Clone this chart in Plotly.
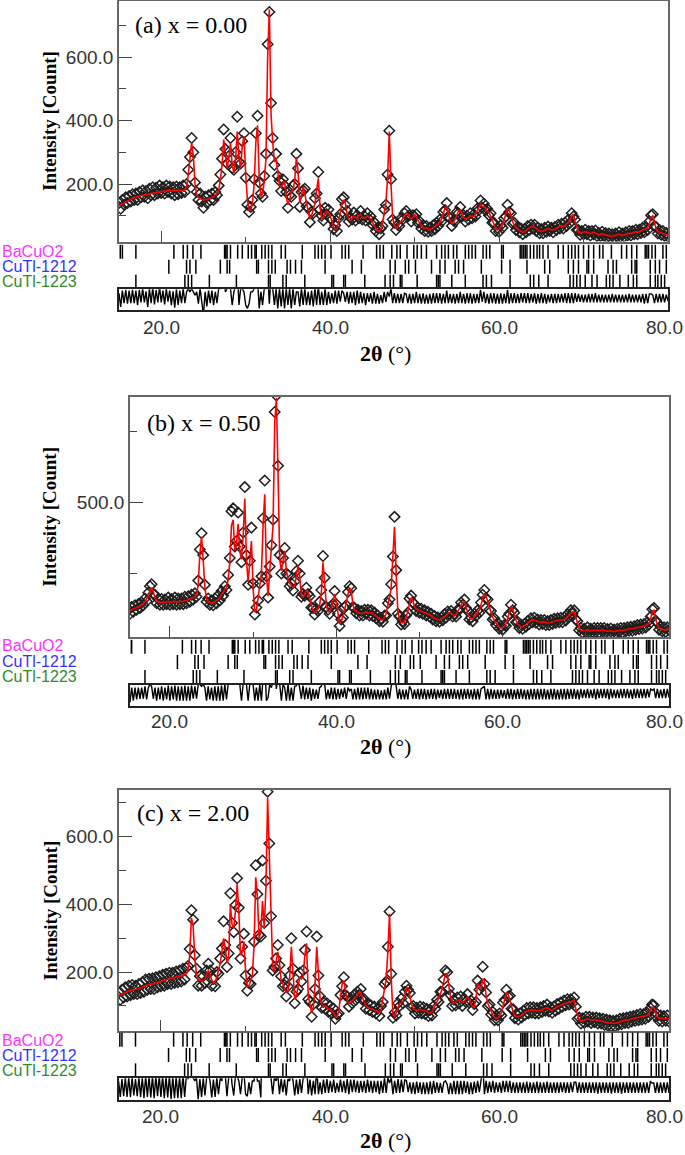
import numpy as np
import plotly.graph_objects as go

W, H = 685, 1155

# step-scan grid, 0.2 deg
two_theta = np.round(np.arange(15.0, 80.0001, 0.2), 1)
x_tick_vals = [20, 40, 60, 80]

# (a) x = 0.00
obs_a = [
    140, 122, 150, 135, 158, 140, 162, 145, 168, 150,
    170, 150, 175, 158, 180, 160, 178, 155, 185, 165,
    190, 165, 188, 170, 195, 172, 190, 170, 195, 175,
    192, 170, 190, 165, 192, 168, 190, 172, 195, 175,
    200, 245, 285, 345, 300, 205, 175, 150, 170, 145,
    125, 160, 140, 165, 148, 170, 150, 175, 165, 195,
    230, 280, 372, 310, 265, 300, 345, 250, 245, 300,
    412, 270, 265, 335, 360, 220, 135, 112, 128, 150,
    215, 360, 415, 205, 170, 160, 225, 295, 640, 742,
    455, 345, 260, 295, 225, 210, 178, 215, 195, 175,
    125, 165, 160, 195, 200, 295, 250, 128, 175, 180,
    185, 130, 125, 80, 112, 108, 155, 170, 238, 120,
    100, 85, 125, 105, 120, 92, 88, 58, 70, 52,
    92, 105, 152, 158, 135, 115, 82, 95, 88, 110,
    85, 102, 92, 115, 88, 100, 85, 108, 90, 98,
    72, 80, 52, 62, 42, 60, 68, 120, 135, 230,
    368, 215, 88, 78, 55, 72, 68, 92, 88, 108,
    115, 98, 102, 82, 102, 98, 105, 78, 82, 60,
    70, 52, 68, 50, 62, 52, 70, 58, 78, 68,
    88, 82, 112, 118, 140, 98, 92, 68, 85, 82,
    112, 108, 128, 98, 102, 82, 100, 88, 108, 92,
    105, 98, 122, 118, 148, 125, 138, 118, 122, 102,
    108, 78, 78, 52, 62, 50, 70, 62, 92, 98,
    135, 112, 108, 75, 78, 55, 65, 48, 60, 42,
    58, 48, 68, 55, 72, 60, 72, 52, 62, 45,
    58, 45, 62, 50, 66, 52, 62, 48, 65, 55,
    72, 60, 75, 60, 78, 68, 88, 78, 108, 98,
    88, 55, 55, 40, 52, 42, 56, 42, 52, 38,
    52, 42, 54, 36, 46, 36, 50, 36, 46, 32,
    44, 30, 42, 30, 44, 34, 48, 34, 44, 34,
    48, 38, 52, 38, 52, 42, 56, 42, 56, 46,
    62, 48, 65, 55, 82, 102, 105, 68, 65, 44,
    55, 40, 52, 36, 46, 34,
]
calc_a = [
    132, 135, 138, 142, 145, 148, 150, 152, 155, 157,
    158, 160, 162, 164, 165, 166, 167, 168, 170, 172,
    173, 174, 175, 176, 177, 178, 178, 179, 180, 180,
    180, 180, 179, 179, 178, 178, 178, 179, 180, 182,
    190, 230, 275, 330, 290, 200, 165, 158, 155, 152,
    150, 150, 152, 153, 155, 158, 160, 165, 172, 180,
    215, 260, 340, 300, 250, 280, 330, 260, 235, 280,
    365, 280, 250, 320, 350, 230, 150, 120, 118, 140,
    200, 330, 385, 220, 160, 170, 210, 280, 600, 750,
    420, 330, 270, 280, 240, 195, 190, 200, 210, 160,
    135, 150, 175, 180, 210, 285, 240, 140, 160, 190,
    170, 140, 115, 90, 100, 120, 140, 180, 218, 130,
    90, 95, 110, 115, 110, 100, 80, 65, 58, 60,
    80, 110, 140, 150, 140, 105, 90, 85, 95, 100,
    95, 90, 100, 105, 95, 92, 95, 100, 95, 90,
    80, 70, 60, 55, 50, 55, 75, 110, 140, 220,
    365, 200, 95, 70, 62, 65, 75, 85, 95, 100,
    108, 105, 95, 90, 95, 105, 95, 85, 75, 68,
    62, 60, 62, 58, 55, 60, 62, 65, 70, 75,
    80, 90, 105, 125, 128, 105, 85, 75, 78, 90,
    105, 115, 118, 105, 95, 90, 92, 95, 100, 100,
    98, 105, 115, 125, 135, 130, 128, 125, 115, 110,
    100, 85, 70, 60, 55, 58, 62, 70, 85, 105,
    122, 120, 100, 82, 70, 62, 58, 55, 52, 48,
    50, 55, 60, 62, 65, 66, 64, 60, 55, 52,
    50, 52, 55, 58, 60, 58, 55, 55, 58, 62,
    65, 66, 68, 66, 70, 75, 80, 85, 100, 105,
    80, 60, 48, 45, 46, 48, 50, 48, 45, 44,
    45, 48, 46, 42, 40, 42, 44, 42, 40, 38,
    38, 36, 35, 36, 38, 40, 42, 40, 38, 40,
    42, 44, 45, 44, 46, 48, 50, 48, 50, 52,
    55, 56, 58, 62, 75, 95, 100, 75, 58, 50,
    48, 46, 45, 42, 40, 38,
]

# (b) x = 0.50
obs_b = [
    122, 108, 132, 115, 138, 122, 142, 128, 148, 138,
    162, 152, 182, 205, 212, 178, 175, 145, 160, 140,
    160, 140, 158, 142, 165, 140, 160, 142, 165, 140,
    162, 142, 162, 142, 168, 145, 170, 150, 175, 158,
    180, 168, 225, 335, 392, 315, 210, 150, 162, 140,
    155, 138, 162, 145, 172, 155, 188, 172, 205, 192,
    245, 305, 470, 480, 345, 365, 465, 345, 290, 395,
    555, 315, 210, 295, 412, 215, 105, 130, 155, 215,
    240, 445, 578, 240, 165, 275, 350, 440, 820, 878,
    630, 315, 250, 305, 340, 250, 245, 205, 215, 190,
    222, 258, 295, 250, 168, 178, 172, 200, 178, 170,
    130, 128, 105, 125, 118, 150, 192, 312, 235, 132,
    122, 108, 135, 142, 188, 142, 108, 65, 88, 95,
    130, 138, 185, 205, 198, 132, 128, 110, 122, 102,
    118, 102, 122, 108, 122, 102, 120, 100, 112, 92,
    102, 82, 92, 80, 102, 102, 145, 158, 212, 310,
    450, 262, 108, 98, 70, 82, 72, 102, 112, 162,
    172, 148, 142, 118, 130, 112, 126, 108, 120, 102,
    115, 98, 108, 88, 100, 82, 95, 80, 95, 85,
    106, 95, 116, 105, 118, 98, 108, 98, 122, 122,
    148, 140, 158, 128, 118, 88, 95, 82, 108, 100,
    120, 112, 148, 175, 192, 162, 158, 122, 118, 88,
    92, 68, 75, 55, 65, 52, 68, 65, 98, 108,
    140, 120, 112, 78, 80, 58, 70, 55, 72, 62,
    82, 72, 92, 78, 94, 76, 88, 70, 86, 72,
    86, 68, 82, 68, 86, 72, 90, 76, 92, 78,
    94, 78, 96, 84, 106, 98, 120, 108, 120, 88,
    82, 50, 58, 42, 55, 44, 60, 44, 55, 44,
    58, 44, 58, 42, 58, 46, 58, 42, 54, 40,
    56, 40, 52, 40, 55, 44, 58, 42, 58, 46,
    60, 48, 62, 48, 64, 52, 68, 54, 70, 56,
    72, 60, 78, 70, 98, 124, 128, 84, 76, 52,
    62, 46, 60, 44, 60, 50,
]
calc_b = [
    115, 120, 122, 125, 128, 130, 132, 135, 138, 145,
    150, 160, 172, 190, 200, 185, 165, 155, 150, 148,
    148, 150, 148, 150, 152, 150, 148, 150, 152, 150,
    150, 152, 150, 152, 155, 155, 158, 160, 162, 165,
    168, 175, 210, 320, 380, 300, 200, 160, 150, 148,
    145, 148, 150, 155, 160, 165, 175, 182, 190, 200,
    230, 290, 420, 440, 330, 350, 425, 330, 300, 380,
    515, 300, 220, 280, 365, 200, 115, 120, 165, 200,
    250, 420, 530, 250, 170, 260, 340, 420, 780, 870,
    600, 300, 260, 290, 330, 260, 230, 215, 205, 200,
    210, 245, 275, 240, 175, 165, 180, 190, 185, 160,
    140, 120, 112, 118, 125, 140, 180, 290, 220, 140,
    115, 115, 125, 150, 178, 150, 100, 72, 80, 100,
    120, 145, 175, 200, 190, 140, 120, 118, 112, 110,
    108, 110, 112, 115, 112, 110, 112, 108, 105, 100,
    95, 90, 86, 88, 95, 110, 135, 165, 200, 290,
    415, 250, 115, 90, 78, 75, 80, 95, 120, 150,
    165, 155, 135, 125, 122, 120, 118, 115, 112, 110,
    108, 105, 100, 95, 92, 90, 88, 86, 88, 92,
    98, 102, 108, 112, 110, 105, 100, 105, 115, 130,
    140, 148, 150, 135, 110, 95, 88, 90, 100, 108,
    112, 120, 140, 165, 180, 170, 150, 130, 110, 95,
    85, 75, 68, 62, 58, 58, 62, 72, 90, 115,
    132, 128, 105, 85, 72, 65, 62, 62, 65, 70,
    75, 80, 84, 86, 86, 84, 80, 78, 78, 80,
    78, 76, 75, 76, 78, 80, 82, 84, 85, 86,
    86, 86, 88, 92, 98, 105, 112, 115, 112, 95,
    75, 58, 50, 48, 48, 50, 52, 50, 48, 50,
    50, 52, 50, 48, 50, 52, 50, 48, 46, 48,
    48, 46, 45, 46, 48, 50, 50, 48, 50, 52,
    52, 54, 55, 55, 56, 58, 60, 60, 62, 62,
    64, 66, 70, 75, 90, 118, 120, 90, 68, 58,
    55, 52, 52, 50, 52, 55,
]

# (c) x = 2.00
obs_c = [
    140, 118, 148, 125, 155, 128, 160, 132, 162, 135,
    160, 135, 165, 138, 170, 142, 178, 148, 180, 150,
    182, 150, 185, 155, 188, 158, 192, 160, 195, 165,
    198, 165, 198, 168, 202, 170, 205, 172, 210, 178,
    212, 218, 268, 383, 355, 250, 210, 160, 188, 160,
    188, 168, 205, 225, 205, 160, 180, 158, 200, 195,
    240, 270, 350, 280, 215, 255, 433, 345, 318, 398,
    477, 390, 240, 275, 313, 190, 145, 168, 165, 200,
    290, 516, 430, 310, 305, 530, 345, 470, 733, 580,
    365, 205, 215, 240, 280, 220, 188, 158, 162, 128,
    158, 190, 300, 210, 108, 142, 150, 198, 172, 205,
    265, 320, 120, 112, 68, 105, 150, 305, 190, 128,
    95, 112, 92, 108, 82, 100, 78, 92, 62, 75,
    78, 132, 158, 185, 132, 128, 98, 122, 108, 132,
    118, 142, 132, 150, 118, 120, 92, 108, 88, 102,
    82, 98, 78, 92, 70, 100, 112, 165, 172, 275,
    379, 195, 65, 80, 72, 108, 100, 122, 108, 142,
    160, 148, 138, 96, 100, 78, 95, 80, 98, 78,
    96, 76, 92, 70, 88, 72, 100, 92, 118, 112,
    142, 142, 178, 205, 200, 150, 132, 100, 118, 102,
    125, 108, 128, 100, 122, 112, 135, 110, 116, 88,
    106, 112, 175, 148, 160, 216, 165, 140, 100, 104,
    75, 82, 58, 72, 58, 78, 72, 110, 118, 148,
    128, 130, 92, 90, 64, 76, 60, 78, 66, 86,
    74, 94, 78, 96, 80, 96, 78, 94, 78, 96,
    82, 100, 86, 104, 84, 96, 80, 98, 86, 106,
    92, 110, 98, 116, 102, 120, 104, 120, 108, 125,
    98, 62, 66, 48, 64, 50, 68, 54, 68, 50,
    66, 52, 66, 48, 64, 48, 62, 44, 60, 42,
    58, 40, 56, 40, 58, 44, 62, 46, 64, 50,
    66, 50, 68, 54, 70, 56, 73, 58, 76, 60,
    76, 62, 80, 68, 94, 104, 102, 70, 76, 56,
    72, 54, 70, 56, 72, 54,
]
calc_c = [
    130, 132, 135, 138, 140, 142, 145, 146, 147, 147,
    147, 148, 150, 152, 155, 158, 160, 162, 163, 165,
    165, 166, 167, 168, 170, 172, 174, 176, 178, 180,
    180, 182, 182, 184, 185, 186, 188, 188, 190, 192,
    195, 205, 250, 360, 340, 240, 195, 178, 175, 174,
    174, 180, 190, 205, 195, 175, 168, 172, 185, 205,
    226, 260, 300, 270, 228, 240, 400, 340, 330, 380,
    460, 380, 250, 260, 290, 200, 158, 160, 175, 190,
    280, 480, 420, 300, 320, 410, 330, 450, 714, 560,
    350, 215, 200, 230, 260, 230, 175, 165, 150, 140,
    145, 180, 275, 200, 120, 130, 160, 185, 180, 190,
    250, 285, 130, 100, 80, 95, 160, 275, 200, 120,
    105, 100, 100, 95, 90, 90, 85, 80, 70, 68,
    85, 120, 165, 175, 140, 115, 108, 110, 115, 120,
    125, 132, 140, 140, 125, 110, 100, 96, 95, 92,
    90, 88, 85, 82, 80, 90, 120, 150, 180, 260,
    372, 180, 75, 70, 80, 95, 108, 110, 115, 130,
    150, 155, 130, 105, 92, 88, 86, 88, 90, 88,
    88, 86, 84, 80, 79, 82, 90, 100, 110, 120,
    135, 150, 170, 195, 195, 160, 125, 110, 108, 112,
    115, 118, 118, 110, 112, 120, 126, 120, 108, 98,
    97, 120, 165, 155, 150, 178, 175, 130, 108, 95,
    82, 72, 66, 64, 65, 70, 80, 100, 125, 138,
    135, 120, 100, 82, 72, 68, 68, 70, 74, 78,
    82, 85, 86, 88, 88, 88, 86, 85, 86, 88,
    90, 92, 94, 95, 92, 88, 88, 90, 94, 98,
    100, 102, 105, 108, 110, 112, 112, 112, 115, 117,
    90, 70, 58, 56, 56, 58, 60, 62, 60, 58,
    58, 60, 58, 57, 56, 56, 54, 52, 52, 50,
    50, 49, 48, 48, 50, 52, 54, 55, 56, 58,
    58, 58, 60, 62, 62, 64, 65, 66, 68, 68,
    68, 70, 72, 76, 85, 97, 95, 78, 68, 64,
    64, 62, 62, 64, 64, 62,
]

# reflection positions (2theta) of the three phases
refl_bacuo2 = [
    15.15, 15.4, 17.0, 21.5, 22.6, 23.1, 23.75, 24.7, 27.5, 27.65, 27.8, 28.2,
    29.05, 29.6, 30.3, 30.7, 31.1, 31.25, 31.9, 32.3, 32.7, 33.1, 34.2, 34.7,
    36.7, 38.2, 38.6, 39.0, 39.4, 40.1, 41.4, 41.8, 42.2, 43.9, 45.5, 45.9,
    46.3, 47.3, 47.9, 48.3, 49.1, 49.9, 50.3, 50.8, 51.4, 52.6, 53.2, 53.6,
    54.0, 54.6, 55.0, 56.0, 56.4, 56.8, 57.2, 58.1, 58.5, 58.9, 60.3, 60.5,
    62.5, 62.7, 62.9, 63.1, 63.3, 63.7, 64.1, 64.5, 64.8, 65.2, 65.8, 67.0,
    67.6, 68.2, 68.6, 69.0, 69.4, 70.0, 70.6, 71.2, 71.9, 72.3, 73.3, 74.5,
    75.1, 75.7, 76.3, 77.3, 77.5, 77.7, 78.1, 78.5, 79.4, 79.8,
]
refl_1212 = [
    20.9, 23.0, 23.4, 24.1, 27.0, 27.8, 28.1, 31.3, 31.5, 32.7, 33.1, 33.5,
    34.9, 35.3, 35.9, 36.6, 39.4, 42.6, 43.7, 47.1, 47.7, 48.9, 49.3, 50.1,
    52.0, 53.0, 53.6, 54.8, 55.2, 55.8, 57.9, 60.3, 61.3, 63.3, 65.4, 66.0,
    68.2, 68.8, 69.4, 70.4, 70.6, 71.2, 72.9, 73.5, 73.9, 75.7, 76.1, 76.3,
    77.9, 78.5, 79.0, 79.8,
]
refl_1223 = [
    17.0, 22.8, 23.2, 23.6, 25.7, 28.9, 32.7, 32.9, 34.4, 34.8, 37.0, 40.2,
    40.4, 41.6, 41.8, 44.1, 46.5, 47.1, 47.5, 48.3, 48.5, 50.3, 52.6, 52.8,
    53.0, 54.4, 56.0, 58.1, 58.5, 59.1, 61.3, 63.7, 64.1, 64.7, 65.8, 68.4,
    68.8, 69.2, 69.6, 70.2, 71.0, 71.6, 72.7, 73.1, 73.5, 74.3, 75.3, 75.9,
    76.3, 77.9, 78.5, 78.8, 79.2, 79.6,
]
phase_names = ["BaCuO2", "CuTl-1212", "CuTl-1223"]
phase_colors = ["#ff33ff", "#3333ff", "#2e8b2e"]
phase_refl = [refl_bacuo2, refl_1212, refl_1223]

for arr in (obs_a, calc_a, obs_b, calc_b, obs_c, calc_c):
    assert len(arr) == len(two_theta)


def fx(px):
    return px / W


def fy(py):
    return 1 - py / H


panels = [
    dict(label="(a) x = 0.00", obs=obs_a, calc=calc_a, left=119, right=668,
         top=0.5, bottom=241.5, yrange=[19, 778], dt=200, mdt=100,
         xrange=[15.0, 80.0], rows=(244.2, 289.2), diff=(289.3, 310.3),
         drange=[-18, 14], lab=(133, 25), row_y=(251, 266, 281),
         tick_y=327, title_y=353),
    dict(label="(b) x = 0.50", obs=obs_b, calc=calc_b, left=130, right=669,
         top=396.7, bottom=637, yrange=[26, 874], dt=500, mdt=250,
         xrange=[15.2, 80.0], rows=(639.2, 684.7), diff=(685, 706),
         drange=[-18, 14], lab=(145, 423), row_y=(645.5, 661.7, 676.7),
         tick_y=722, title_y=746.7),
    dict(label="(c) x = 2.00", obs=obs_c, calc=calc_c, left=119, right=669,
         top=790, bottom=1031, yrange=[26, 738], dt=200, mdt=100,
         xrange=[15.05, 80.0], rows=(1032, 1078), diff=(1078.3, 1099.5),
         drange=[-18, 14], lab=(135, 813), row_y=(1040.7, 1055, 1070),
         tick_y=1116.5, title_y=1140),
]

tick_font = dict(family="Liberation Sans, Arial", size=19, color="#333")
box_col = "#666"

fig = go.Figure()
layout = {}
annotations = []

for i, p in enumerate(panels):
    n = 3 * i + 1
    ids = [n, n + 1, n + 2]
    xs = ["x" if k == 1 else f"x{k}" for k in ids]
    ys = ["y" if k == 1 else f"y{k}" for k in ids]
    xa = ["xaxis" if k == 1 else f"xaxis{k}" for k in ids]
    ya = ["yaxis" if k == 1 else f"yaxis{k}" for k in ids]
    xdom = [fx(p["left"]), fx(p["right"])]

    obs = np.array(p["obs"], dtype=float)
    calc = np.array(p["calc"], dtype=float)

    # observed + calculated
    fig.add_trace(go.Scatter(
        x=two_theta, y=obs, xaxis=xs[0], yaxis=ys[0], mode="markers",
        marker=dict(symbol="diamond-open", size=8, color="#1e1e1e",
                    line=dict(width=1.5)),
        showlegend=False))
    fig.add_trace(go.Scatter(
        x=two_theta, y=calc, xaxis=xs[0], yaxis=ys[0], mode="lines",
        line=dict(color="red", width=1.6), showlegend=False))

    # reflection ticks
    for j, refl in enumerate(phase_refl):
        fig.add_trace(go.Scatter(
            x=refl, y=[3 - j] * len(refl), xaxis=xs[1], yaxis=ys[1],
            mode="markers",
            marker=dict(symbol="line-ns", size=10,
                        line=dict(width=1.5, color="black")),
            showlegend=False))

    # difference curve
    fig.add_trace(go.Scatter(
        x=two_theta, y=obs - calc, xaxis=xs[2], yaxis=ys[2], mode="lines",
        line=dict(color="black", width=1.4), showlegend=False))

    layout[xa[0]] = dict(
        domain=xdom, range=p["xrange"], anchor=ys[0], ticks="inside",
        ticklen=11, tickwidth=1.3, tickcolor="#444", tick0=0, dtick=20,
        minor=dict(ticks="inside", ticklen=5, tickwidth=1.3, tickcolor="#444",
                   tick0=0, dtick=10),
        showticklabels=False, showline=True, mirror=True, linecolor=box_col,
        linewidth=1.6, showgrid=False, zeroline=False)
    layout[ya[0]] = dict(
        domain=[fy(p["bottom"]), fy(p["top"])], range=p["yrange"],
        anchor=xs[0], ticks="inside", ticklen=13, tickwidth=1.3,
        tickcolor="#444", tick0=0, dtick=p["dt"], tickformat=".1f",
        tickfont=tick_font,
        minor=dict(ticks="inside", ticklen=7, tickwidth=1.3, tickcolor="#444",
                   tick0=0, dtick=p["mdt"]),
        showline=True, mirror=True, linecolor=box_col, linewidth=1.6,
        showgrid=False, zeroline=False)

    layout[xa[1]] = dict(domain=xdom, range=p["xrange"], anchor=ys[1],
                         visible=False)
    layout[ya[1]] = dict(domain=[fy(p["rows"][1]), fy(p["rows"][0])],
                         range=[0.5, 3.5], anchor=xs[1], visible=False)

    layout[xa[2]] = dict(
        domain=xdom, range=p["xrange"], anchor=ys[2], ticks="",
        showticklabels=False, showline=True, mirror=True, linecolor="#222",
        linewidth=1.5, showgrid=False, zeroline=False)
    layout[ya[2]] = dict(
        domain=[fy(p["diff"][1]), fy(p["diff"][0])], range=p["drange"],
        anchor=xs[2], showticklabels=False, ticks="", showline=True,
        mirror=True, linecolor="#222", linewidth=1.5, showgrid=False,
        zeroline=False)

    # x tick labels below the difference box (last one kept inside the page)
    for v in x_tick_vals:
        last = v == x_tick_vals[-1]
        annotations.append(dict(
            text=f"{v:.1f}", x=v, xref=xs[2], y=fy(p["tick_y"]),
            yref="paper", xanchor="right" if last else "center",
            xshift=(W - 1 - p["right"]) if last else 0,
            yanchor="middle", showarrow=False, borderpad=0, font=tick_font))

    # texts
    annotations.append(dict(
        text=p["label"], x=fx(p["lab"][0]), y=fy(p["lab"][1]), xref="paper",
        yref="paper", xanchor="left", yanchor="middle", showarrow=False,
        font=dict(family="Liberation Serif, Times New Roman", size=24,
                  color="black")))
    annotations.append(dict(
        text="<b>Intensity [Count]</b>", x=fx(50),
        y=fy((p["top"] + p["bottom"]) / 2), xref="paper", yref="paper",
        xanchor="center", yanchor="middle", textangle=-90, showarrow=False,
        font=dict(family="Liberation Serif, Times New Roman", size=19,
                  color="black")))
    for j, name in enumerate(phase_names):
        annotations.append(dict(
            text=name, x=0, y=fy(p["row_y"][j]), xref="paper", yref="paper",
            xanchor="left", yanchor="middle", showarrow=False,
            font=dict(family="Liberation Sans, Arial", size=16,
                      color=phase_colors[j])))
    annotations.append(dict(
        text="<b>2θ</b> (°)", x=fx(385), y=fy(p["title_y"]), xref="paper",
        yref="paper", xanchor="center", yanchor="middle", showarrow=False,
        font=dict(family="Liberation Serif, Times New Roman", size=22,
                  color="black")))

fig.update_layout(
    width=W, height=H, margin=dict(l=0, r=0, t=0, b=0),
    paper_bgcolor="white", plot_bgcolor="white", showlegend=False,
    annotations=annotations, **layout)

fig.write_html("out.html",
               config={"displayModeBar": False, "displaylogo": False},
               post_script="document.body.style.margin = '0px';")
